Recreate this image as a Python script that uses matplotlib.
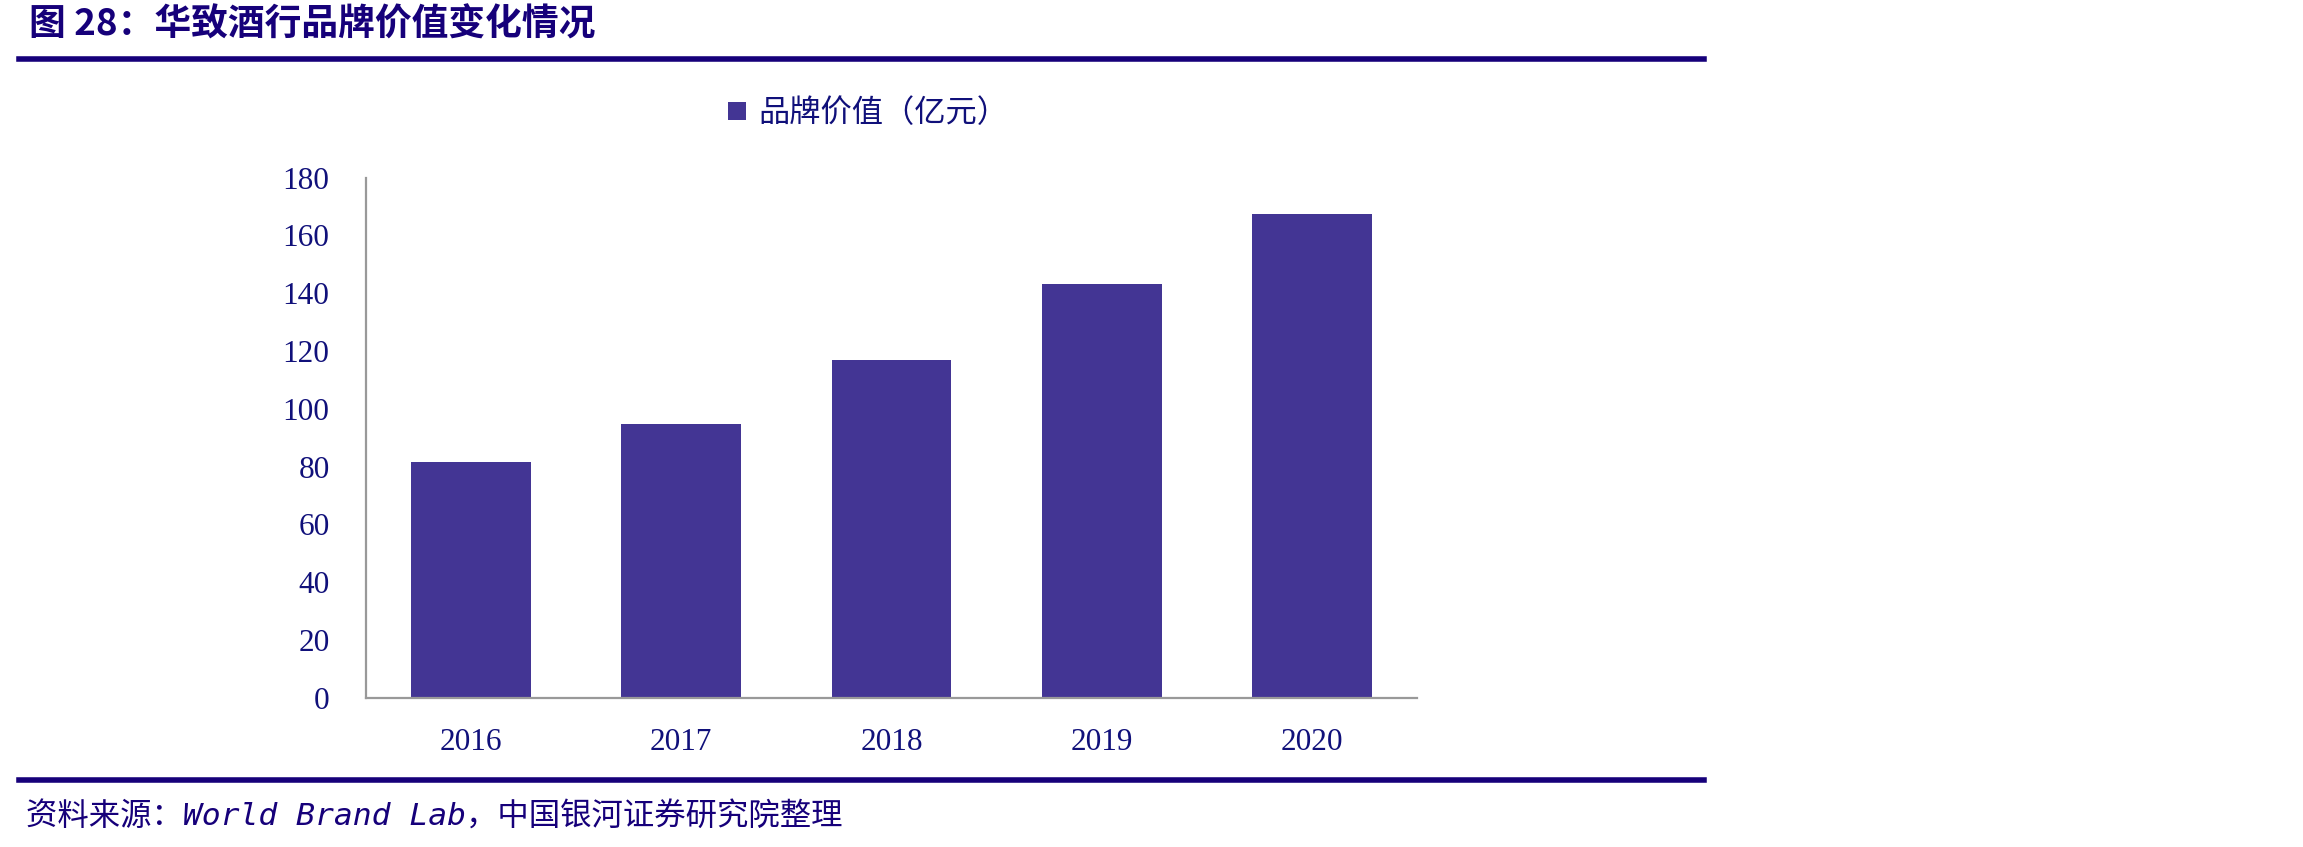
import numpy as np
import matplotlib
matplotlib.use("Agg")
import matplotlib.pyplot as plt
from matplotlib.lines import Line2D
from matplotlib.patches import Patch

plt.rcParams['font.family'] = ['Noto Sans CJK SC', 'DejaVu Sans']

# data
years = ['2016', '2017', '2018', '2019', '2020']
brand_value = [81.5, 94.6, 116.8, 143.2, 167.3]
yticks = [0, 20, 40, 60, 80, 100, 120, 140, 160, 180]

title = '图 28：华致酒行品牌价值变化情况'
legend_label = '品牌价值（亿元）'
source = '资料来源：World Brand Lab，中国银河证券研究院整理'

bar_color = '#433594'
navy = '#16007a'
tick_color = '#10107a'

fig = plt.figure(figsize=(23.03, 8.47), dpi=100)
ax = fig.add_axes([0.1588, 0.1764, 0.4566, 0.6138])

x = np.arange(len(years))
ax.bar(x, brand_value, width=0.57, color=bar_color, zorder=2)

ax.set_xlim(-0.5, len(years) - 0.5)
ax.set_ylim(0, 180)
ax.set_yticks(yticks)
ax.set_xticks(x)
ax.set_xticklabels(years)

for s in ['top', 'right']:
    ax.spines[s].set_visible(False)
for s in ['left', 'bottom']:
    ax.spines[s].set_color('#999999')
    ax.spines[s].set_linewidth(1.6)

ax.tick_params(axis='both', length=0, colors=tick_color, labelsize=22.5)
ax.tick_params(axis='y', pad=26)
ax.tick_params(axis='x', pad=22)
for lab in ax.get_xticklabels() + ax.get_yticklabels():
    lab.set_family('Liberation Serif')

# legend above the plot
handle = Patch(facecolor=bar_color, edgecolor='none')
fig.legend([handle], [legend_label], loc='center', bbox_to_anchor=(0.377, 0.8666),
           frameon=False, fontsize=22.5, handlelength=0.55, handleheight=0.55,
           handletextpad=0.4, labelcolor=tick_color)

# header and footer
fig.text(0.0126, 0.970, title, fontsize=26.5, fontweight='bold', color=navy,
         ha='left', va='center')
fig.add_artist(Line2D([0.0083, 0.740], [0.9303, 0.9303], color=navy, lw=4))
fig.add_artist(Line2D([0.0083, 0.740], [0.0791, 0.0791], color=navy, lw=4))
fig.text(0.0113, 0.036, source, fontsize=22.6, style='italic', color=navy,
         family=['DejaVu Sans Mono', 'Noto Sans CJK SC'],
         ha='left', va='center')

fig.savefig('out.png', dpi=100)
